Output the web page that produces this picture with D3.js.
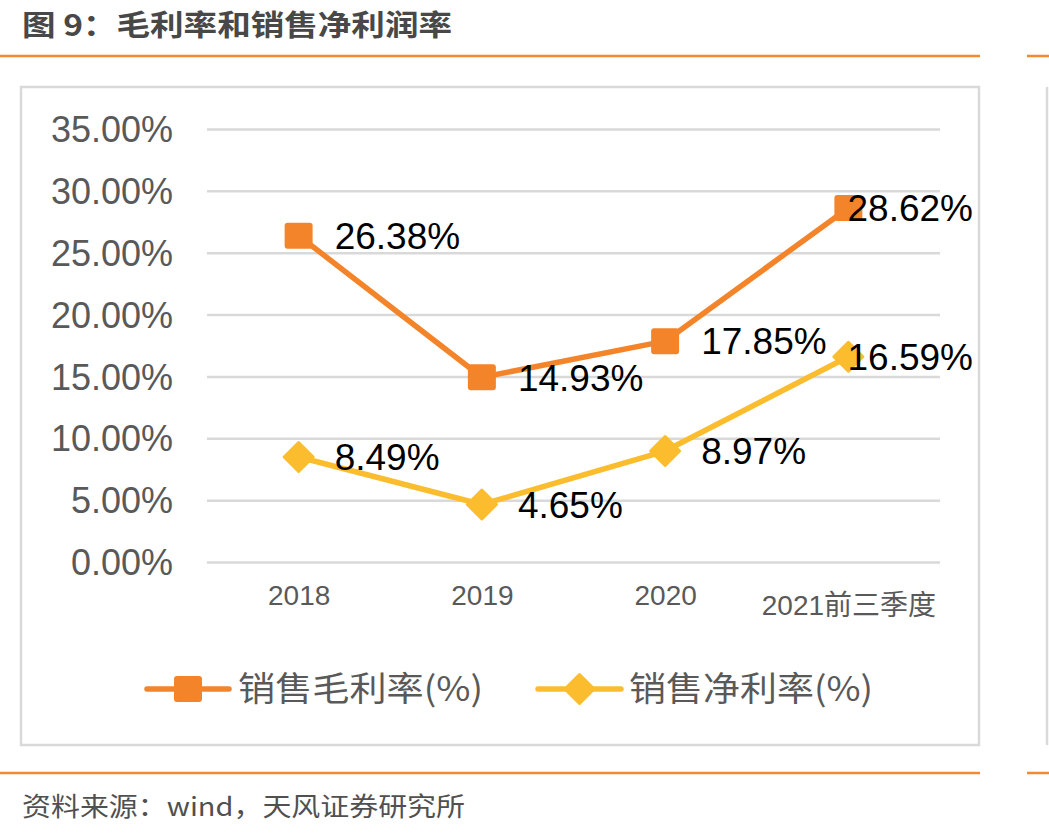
<!DOCTYPE html>
<html>
<head>
<meta charset="utf-8">
<script src="https://cdn.jsdelivr.net/npm/d3@7"></script>
<style>
  html, body { margin: 0; padding: 0; background: #ffffff; }
  svg { display: block; }
</style>
</head>
<body>
<svg id="chart" width="1049" height="836"></svg>
<script>
const categories = ["2018", "2019", "2020", "2021前三季度"];
const grossMargin = [26.38, 14.93, 17.85, 28.62];
const netMargin = [8.49, 4.65, 8.97, 16.59];
const yTicks = [0, 5, 10, 15, 20, 25, 30, 35];
const seriesNames = ["销售毛利率(%)", "销售净利率(%)"];
const titleText = "图 9：毛利率和销售净利润率";
const sourceText = "资料来源：wind，天风证券研究所";

const ORANGE = "#F4842A";
const YELLOW = "#FBBD2E";
const GRID = "#D9D9D9";
const LATIN = "'Liberation Sans', Arial, sans-serif";
const CJK = "'Liberation Sans', 'Noto Sans CJK SC', sans-serif";

const svg = d3.select("#chart");

// Title
svg.append("text")
  .attr("x", 22).attr("y", 36)
  .attr("font-family", "'Noto Sans CJK SC', sans-serif")
  .attr("font-weight", "bold")
  .attr("font-size", 29)
  .attr("fill", "#484848")
  .attr("textLength", 430).attr("lengthAdjust", "spacingAndGlyphs")
  .text(titleText);

// Orange rules
[[0, 980, 56], [1027, 1049, 56], [0, 980, 773], [1027, 1049, 773]].forEach(([x1, x2, y]) => {
  svg.append("line").attr("x1", x1).attr("x2", x2).attr("y1", y).attr("y2", y)
    .attr("stroke", "#F28A30").attr("stroke-width", 2.5);
});

// Chart frame
svg.append("rect").attr("x", 21).attr("y", 87).attr("width", 958).attr("height", 658)
  .attr("fill", "#FFFFFF").attr("stroke", GRID).attr("stroke-width", 2.5);
svg.append("line").attr("x1", 1047).attr("x2", 1047).attr("y1", 87).attr("y2", 745)
  .attr("stroke", GRID).attr("stroke-width", 2.5);

// Scales
const plot = { left: 207, right: 940, top: 129, bottom: 562 };
const x = d3.scalePoint().domain(categories).range([plot.left, plot.right]).padding(0.5);
const y = d3.scaleLinear().domain([0, 35]).range([plot.bottom, plot.top]);

// Gridlines + y labels
const yAxis = d3.axisLeft(y).tickValues(yTicks).tickSize(-(plot.right - plot.left))
  .tickFormat(d => d3.format(".2f")(d) + "%").tickPadding(34);
const gy = svg.append("g").attr("transform", `translate(${plot.left},0)`).call(yAxis);
gy.select(".domain").remove();
gy.selectAll(".tick line").attr("stroke", GRID).attr("stroke-width", 2.5);
gy.selectAll(".tick text")
  .attr("font-family", LATIN).attr("font-size", 36).attr("fill", "#595959")
  .attr("dy", "0.35em");

// X axis labels
const xAxis = d3.axisBottom(x).tickSize(0).tickPadding(0);
const gx = svg.append("g").attr("transform", `translate(0,${plot.bottom})`).call(xAxis);
gx.select(".domain").remove();
gx.selectAll(".tick text")
  .attr("font-family", CJK).attr("font-size", 28).attr("fill", "#595959")
  .attr("y", (d, i) => i === categories.length - 1 ? 53 : 43)
  .attr("dy", 0);

// Lines
const series = [
  { name: seriesNames[0], values: grossMargin, color: ORANGE, marker: "square" },
  { name: seriesNames[1], values: netMargin, color: YELLOW, marker: "diamond" }
];

const line = d3.line().x((d, i) => x(categories[i])).y(d => y(d));

function drawMarker(g, type, cx, cy, color) {
  if (type === "square") {
    g.append("rect").attr("x", cx - 14).attr("y", cy - 13).attr("width", 28).attr("height", 26)
      .attr("rx", 3).attr("fill", color);
  } else {
    const r = 14.5;
    g.append("path")
      .attr("d", `M${cx},${cy - r} L${cx + r},${cy} L${cx},${cy + r} L${cx - r},${cy} Z`)
      .attr("fill", color).attr("stroke", color).attr("stroke-width", 3)
      .attr("stroke-linejoin", "round");
  }
}

series.forEach(s => {
  svg.append("path").datum(s.values).attr("d", line)
    .attr("fill", "none").attr("stroke", s.color).attr("stroke-width", 5.5)
    .attr("stroke-linejoin", "round");
});
series.forEach(s => {
  const g = svg.append("g");
  s.values.forEach((v, i) => drawMarker(g, s.marker, x(categories[i]), y(v), s.color));
});

// Data labels
const labelRightLimit = 973;
series.forEach(s => {
  s.values.forEach((v, i) => {
    const t = svg.append("text")
      .attr("font-family", LATIN).attr("font-size", 37).attr("fill", "#000000")
      .attr("y", y(v)).attr("dy", "0.36em")
      .text(d3.format(".2f")(v) + "%");
    const w = t.node().getComputedTextLength();
    let lx = x(categories[i]) + 36;
    if (lx + w > labelRightLimit) lx = labelRightLimit - w;
    t.attr("x", lx);
  });
});

// Legend
const legendY = 689;
const legendItems = [
  { s: series[0], x1: 147, x2: 229, tx: 238, tw: 245 },
  { s: series[1], x1: 538, x2: 621, tx: 629, tw: 244 }
];
legendItems.forEach(li => {
  const g = svg.append("g");
  g.append("line").attr("x1", li.x1).attr("x2", li.x2).attr("y1", legendY).attr("y2", legendY)
    .attr("stroke", li.s.color).attr("stroke-width", 5.5).attr("stroke-linecap", "round");
  drawMarker(g, li.s.marker, (li.x1 + li.x2) / 2, legendY, li.s.color);
  g.append("text").attr("x", li.tx).attr("y", legendY).attr("dy", "0.36em")
    .attr("font-family", "'Noto Sans CJK SC', sans-serif").attr("font-size", 34)
    .attr("fill", "#595959")
    .attr("textLength", li.tw).attr("lengthAdjust", "spacingAndGlyphs")
    .text(li.s.name);
});

// Source
svg.append("text")
  .attr("x", 22).attr("y", 816)
  .attr("font-family", "'Noto Sans CJK SC', sans-serif")
  .attr("font-size", 26)
  .attr("fill", "#505050")
  .attr("textLength", 443).attr("lengthAdjust", "spacingAndGlyphs")
  .text(sourceText);
</script>
</body>
</html>
